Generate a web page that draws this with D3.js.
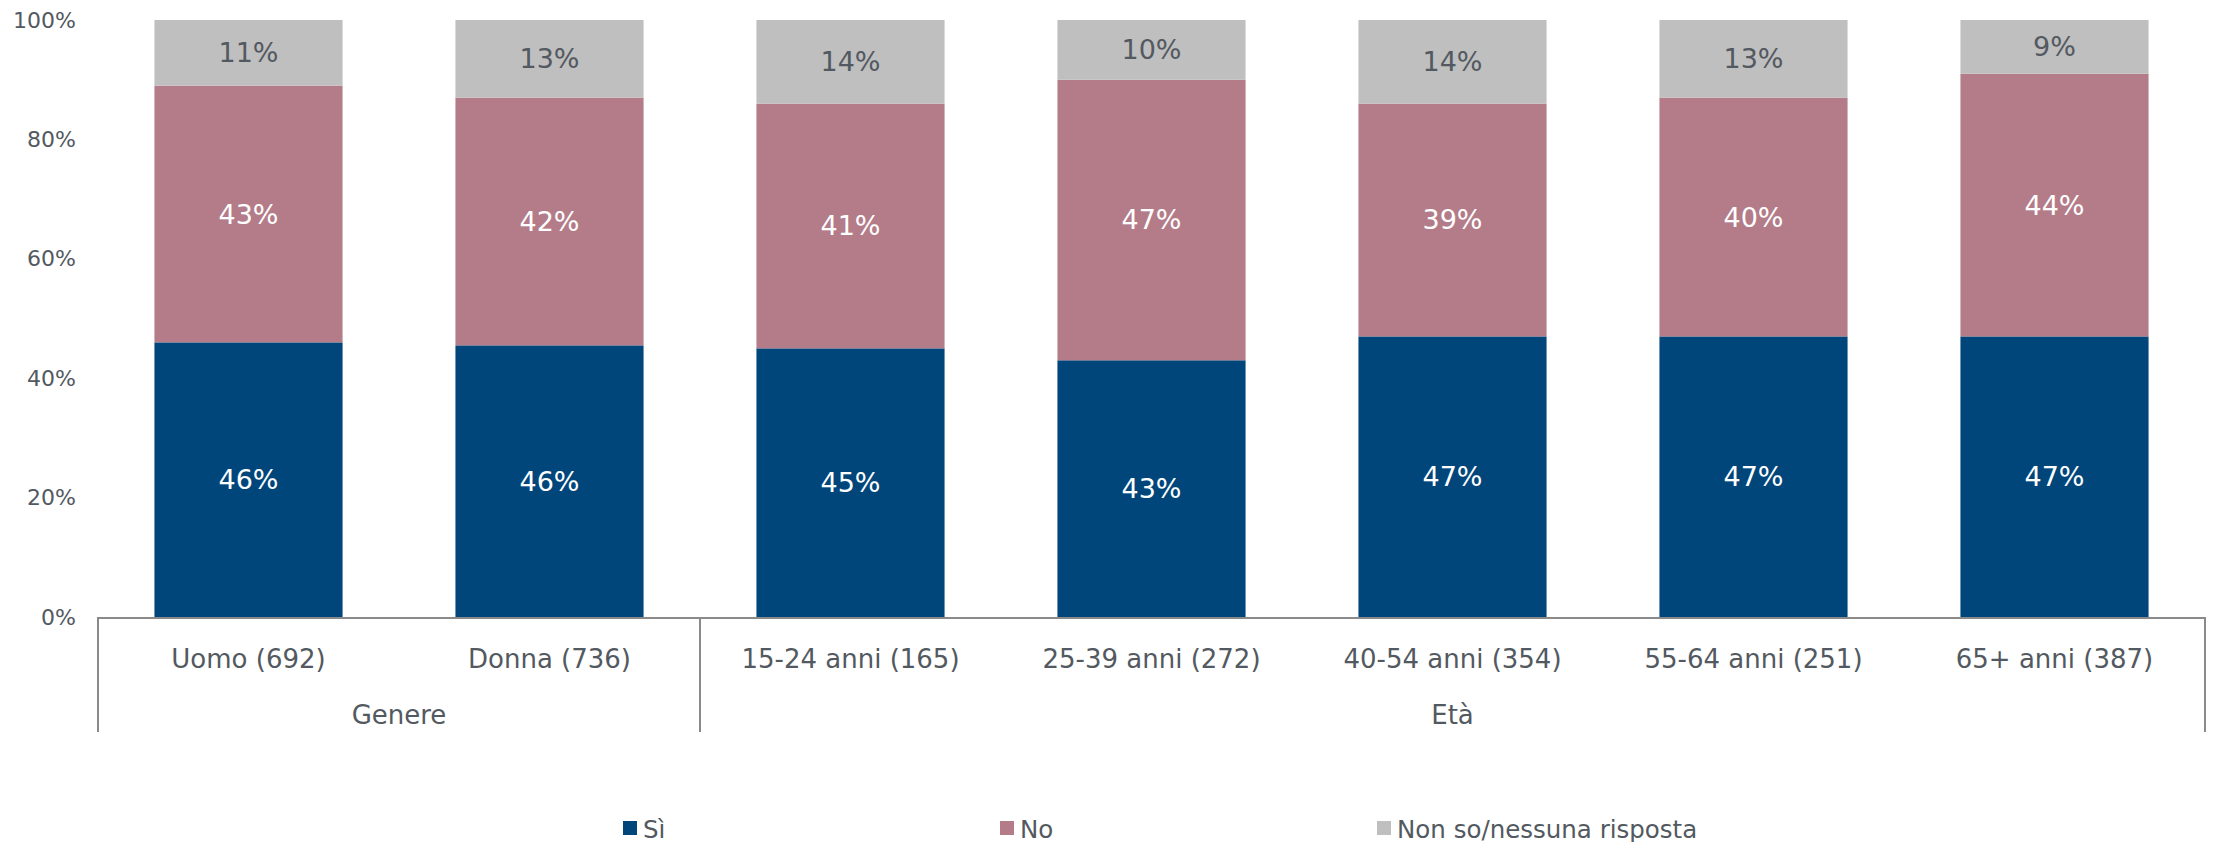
<!DOCTYPE html>
<html>
<head>
<meta charset="utf-8">
<script src="https://cdn.jsdelivr.net/npm/d3@7"></script>
<style>
  body { margin: 0; background: #fff; }
  text { font-family: "DejaVu Sans", Verdana, sans-serif; }
</style>
</head>
<body>
<svg id="canvas"></svg>
<script>
const categories = ["Uomo (692)", "Donna (736)", "15-24 anni (165)", "25-39 anni (272)", "40-54 anni (354)", "55-64 anni (251)", "65+ anni (387)"];
const groups = [
    { name: "Genere", from: 0, to: 1 },
    { name: "Età", from: 2, to: 6 }
];
const seriesNames = ["Sì", "No", "Non so/nessuna risposta"];
const si = [46, 45.5, 45, 43, 47, 47, 47];
const no = [43, 41.5, 41, 47, 39, 40, 44];
const nonSo = [11, 13, 14, 10, 14, 13, 9];
const yTicks = [0, 20, 40, 60, 80, 100];

const colors = ["#00467a", "#b37c88", "#bfbfbf"];
const labelColors = ["#ffffff", "#ffffff", "#535960"];
const textColor = "#535960";
const lineColor = "#8a8a8a";

const width = 2215;
const height = 842;
const plotLeft = 98, plotRight = 2205, plotTop = 20, plotBottom = 617;

const svg = d3.select("#canvas")
    .attr("width", width)
    .attr("height", height);

const rows = categories.map((c, i) => ({ cat: c, "Sì": si[i], "No": no[i], "Non so/nessuna risposta": nonSo[i] }));
const stacked = d3.stack().keys(seriesNames)(rows);

const x = d3.scaleBand()
    .domain(categories)
    .range([plotLeft, plotRight])
    .paddingInner(0.375)
    .paddingOuter(0.1875);

const y = d3.scaleLinear()
    .domain([0, 100])
    .range([plotBottom, plotTop]);

// y axis labels, no line
const yAxis = svg.append("g")
    .attr("transform", `translate(${plotLeft - 22},0)`)
    .call(d3.axisLeft(y).tickValues(yTicks).tickFormat(d => d + "%").tickSize(0).tickPadding(0));
yAxis.select(".domain").remove();
yAxis.selectAll("text")
    .attr("fill", textColor)
    .style("font-size", "22px")
    .style("font-family", "DejaVu Sans, Verdana, sans-serif");

// bars
const layers = svg.append("g").selectAll("g")
    .data(stacked)
    .join("g")
    .attr("fill", (d, i) => colors[i]);

layers.selectAll("rect")
    .data(d => d)
    .join("rect")
    .attr("x", d => x(d.data.cat))
    .attr("width", x.bandwidth())
    .attr("y", d => y(d[1]))
    .attr("height", d => y(d[0]) - y(d[1]));

// value labels
const labels = svg.append("g").selectAll("g")
    .data(stacked)
    .join("g")
    .attr("fill", (d, i) => labelColors[i]);

labels.selectAll("text")
    .data(d => d)
    .join("text")
    .attr("x", d => x(d.data.cat) + x.bandwidth() / 2)
    .attr("y", d => (y(d[0]) + y(d[1])) / 2)
    .attr("text-anchor", "middle")
    .attr("dominant-baseline", "central")
    .style("font-size", "27px")
    .text(d => Math.round(d[1] - d[0]) + "%");

// x axis with group brackets
const step = x.step();
const edge = i => plotLeft + i * step;
const ax = svg.append("g")
    .attr("stroke", lineColor)
    .attr("stroke-width", 2);

ax.append("line")
    .attr("x1", plotLeft).attr("x2", plotRight)
    .attr("y1", plotBottom + 1).attr("y2", plotBottom + 1);

const dividers = [0].concat(groups.map(g => g.to + 1));
ax.selectAll(".div")
    .data(dividers)
    .join("line")
    .attr("x1", d => edge(d)).attr("x2", d => edge(d))
    .attr("y1", plotBottom).attr("y2", 732);

svg.append("g").selectAll("text")
    .data(categories)
    .join("text")
    .attr("x", d => x(d) + x.bandwidth() / 2)
    .attr("y", 659)
    .attr("text-anchor", "middle")
    .attr("dominant-baseline", "central")
    .attr("fill", textColor)
    .style("font-size", "26px")
    .text(d => d);

svg.append("g").selectAll("text")
    .data(groups)
    .join("text")
    .attr("x", d => (edge(d.from) + edge(d.to + 1)) / 2)
    .attr("y", 715)
    .attr("text-anchor", "middle")
    .attr("dominant-baseline", "central")
    .attr("fill", textColor)
    .style("font-size", "26px")
    .text(d => d.name);

// legend
const legend = svg.append("g").selectAll("g")
    .data(seriesNames)
    .join("g")
    .attr("transform", (d, i) => `translate(${623 + i * 377},828)`);

legend.append("rect")
    .attr("x", 0).attr("y", -7)
    .attr("width", 14).attr("height", 14)
    .attr("fill", (d, i) => colors[i]);

legend.append("text")
    .attr("x", 20)
    .attr("y", 1)
    .attr("dominant-baseline", "central")
    .attr("fill", textColor)
    .style("font-size", "24.5px")
    .text(d => d);
</script>
</body>
</html>
